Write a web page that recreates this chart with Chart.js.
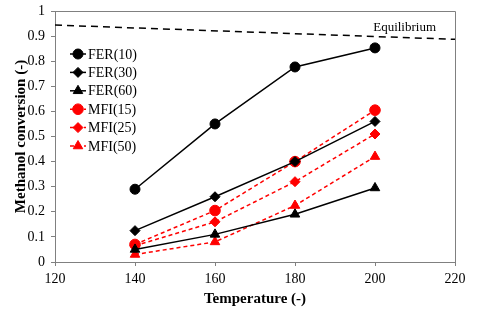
<!DOCTYPE html>
<html>
<head>
<meta charset="utf-8">
<script src="https://cdn.jsdelivr.net/npm/chart.js@4/dist/chart.umd.min.js"></script>
<style>
html,body{margin:0;padding:0;background:#fff;}
#wrap{width:480px;height:313px;position:relative;}
</style>
</head>
<body>
<div id="wrap"><canvas id="c" width="480" height="313"></canvas></div>
<script>
const temperatures = [140, 160, 180, 200];
const fer10 = [0.29, 0.55, 0.777, 0.853];
const fer30 = [0.125, 0.26, 0.40, 0.56];
const fer60 = [0.05, 0.11, 0.19, 0.295];
const mfi15 = [0.07, 0.205, 0.40, 0.605];
const mfi25 = [0.065, 0.16, 0.32, 0.51];
const mfi50 = [0.03, 0.08, 0.225, 0.42];
const equilibriumX = [120, 220];
const equilibriumY = [0.944, 0.887];
const equilibriumLabel = 'Equilibrium';
const xTitle = 'Temperature (-)';
const yTitle = 'Methanol conversion (-)';

const SERIF = '"Liberation Serif", "Times New Roman", serif';
const RED = '#ff0000';

function pts(xs, ys){ return xs.map((x,i)=>({x:x, y:ys[i]})); }

function series(label, ys, style, color, dashed, radius){
  return {
    label: label,
    data: pts(temperatures, ys),
    borderColor: color,
    backgroundColor: color,
    pointBackgroundColor: color,
    pointBorderColor: color,
    pointStyle: style,
    pointRadius: radius,
    pointHoverRadius: radius,
    pointBorderWidth: 1,
    borderWidth: 1.5,
    borderDash: dashed ? [4,3] : [],
    showLine: true,
    tension: 0,
    fill: false
  };
}

const datasets = [
  series('FER(10)', fer10, 'circle', '#000', false, 5),
  series('FER(30)', fer30, 'rectRot', '#000', false, 5),
  series('FER(60)', fer60, 'triangle', '#000', false, 5.5),
  series('MFI(15)', mfi15, 'circle', RED, true, 5.3),
  series('MFI(25)', mfi25, 'rectRot', RED, true, 5),
  series('MFI(50)', mfi50, 'triangle', RED, true, 5.5),
  {
    label: equilibriumLabel,
    data: pts(equilibriumX, equilibriumY),
    borderColor: '#000',
    borderWidth: 1.5,
    borderDash: [7,5],
    pointRadius: 0,
    showLine: true,
    fill: false,
    isEquilibrium: true
  }
];

const customPlugin = {
  id: 'custom',
  afterDraw(chart){
    const ctx = chart.ctx;
    const a = chart.chartArea;
    const xs = chart.scales.x, ys = chart.scales.y;
    ctx.save();
    ctx.strokeStyle = '#808080';
    ctx.lineWidth = 1;
    ctx.beginPath();
    ctx.moveTo(a.left, a.top + 0.5);
    ctx.lineTo(a.right + 0.5, a.top + 0.5);
    ctx.lineTo(a.right + 0.5, a.bottom);
    ctx.stroke();
    ctx.fillStyle = '#000';
    ctx.font = '13px ' + SERIF;
    ctx.textAlign = 'center';
    ctx.textBaseline = 'middle';
    ctx.fillText(equilibriumLabel, xs.getPixelForValue(207.4), ys.getPixelForValue(0.932));
    const x0 = a.left + 15, x1 = a.left + 31, xm = a.left + 23, xt = a.left + 33;
    let y = 54;
    chart.data.datasets.forEach(ds => {
      if (ds.isEquilibrium) return;
      ctx.save();
      ctx.strokeStyle = ds.borderColor;
      ctx.lineWidth = ds.borderWidth;
      ctx.setLineDash(ds.borderDash || []);
      ctx.beginPath();
      ctx.moveTo(x0, y); ctx.lineTo(x1, y); ctx.stroke();
      ctx.setLineDash([]);
      ctx.fillStyle = ds.pointBackgroundColor;
      ctx.strokeStyle = ds.pointBorderColor;
      ctx.lineWidth = 1;
      Chart.helpers.drawPoint(ctx, {
        pointStyle: ds.pointStyle,
        radius: ds.pointRadius,
        borderWidth: 1,
        rotation: 0
      }, xm, y);
      ctx.restore();
      ctx.fillStyle = '#000';
      ctx.font = '14px ' + SERIF;
      ctx.textAlign = 'left';
      ctx.textBaseline = 'middle';
      ctx.fillText(ds.label, xt, y + 1);
      y += 18.4;
    });
    ctx.restore();
  }
};

new Chart(document.getElementById('c'), {
  type: 'scatter',
  data: { datasets: datasets },
  options: {
    responsive: false,
    animation: false,
    events: [],
    layout: { padding: { left: 0, right: 25, top: 11, bottom: 0 } },
    plugins: { legend: { display: false }, tooltip: { enabled: false } },
    scales: {
      x: {
        type: 'linear',
        min: 120, max: 220,
        afterFit(s){ s.height = 51; },
        ticks: { stepSize: 20, color: '#000', font: { family: SERIF, size: 14 }, padding: 5, maxRotation: 0 },
        grid: { display: true, drawOnChartArea: false, color: '#808080', tickLength: 4 },
        border: { color: '#808080', width: 1 },
        title: { display: true, text: xTitle, color: '#000', font: { family: SERIF, size: 15, weight: 'bold' }, padding: { top: 4, bottom: 5 } }
      },
      y: {
        min: 0, max: 1,
        afterFit(s){ s.width = 55; s.paddingTop = 0; s.paddingBottom = 0; },
        ticks: {
          stepSize: 0.05, color: '#000', font: { family: SERIF, size: 14 }, padding: 6,
          callback(v){
            const r = Math.round(v * 100);
            if (r % 10 !== 0) return '';
            return String(Math.round(v * 10) / 10);
          }
        },
        grid: { display: true, drawOnChartArea: false, color: '#808080', tickLength: 4 },
        border: { color: '#808080', width: 1 },
        title: { display: true, text: yTitle, color: '#000', font: { family: SERIF, size: 15, weight: 'bold' }, padding: { top: 12, bottom: 4 } }
      }
    }
  },
  plugins: [customPlugin]
});
</script>
</body>
</html>
